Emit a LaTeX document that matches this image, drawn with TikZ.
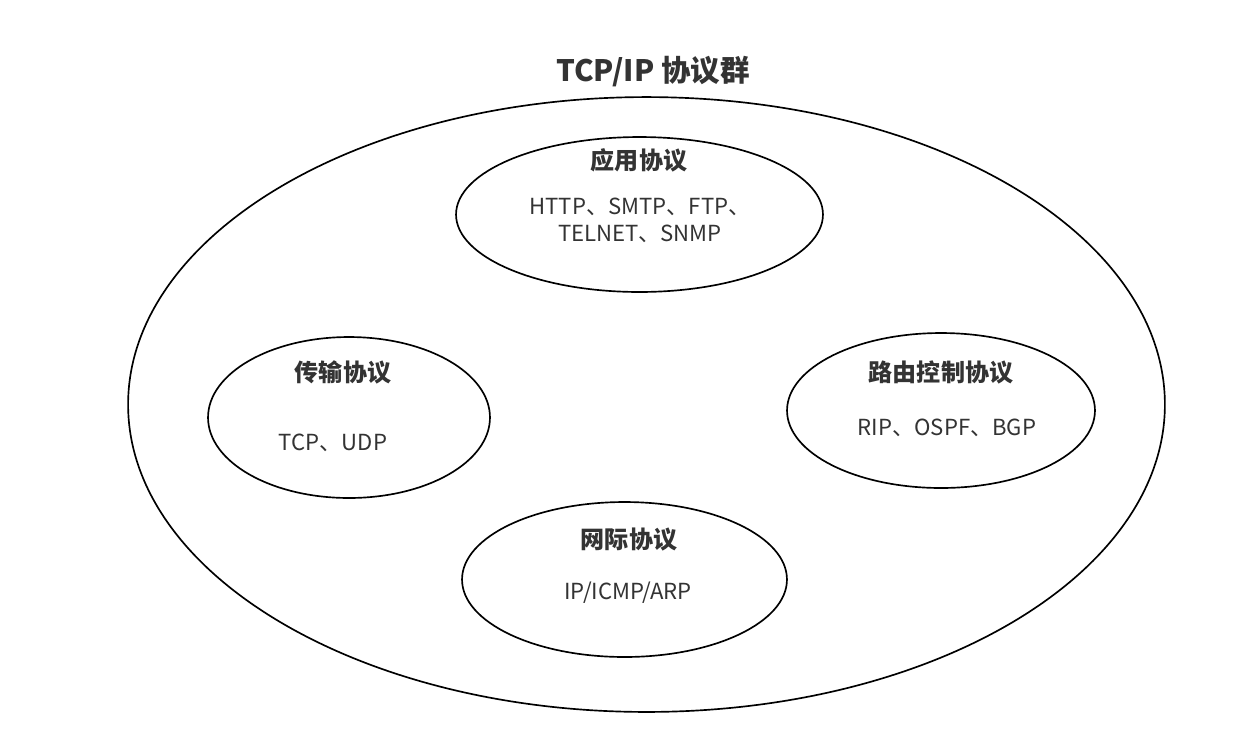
\documentclass[tikz,border=0pt]{standalone}
\usepackage{fontspec}
\setmainfont{Noto Sans CJK SC}
\usetikzlibrary{shapes.geometric}
\definecolor{txt}{HTML}{333333}
\tikzset{
  oval/.style={draw=black, line width=0.95pt, ellipse, inner sep=0pt},
  head/.style={text=txt, font=\fontsize{13.7pt}{16pt}\selectfont\bfseries, inner sep=0pt},
  body/.style={text=txt, font=\fontsize{12.6pt}{15.5pt}\selectfont, inner sep=0pt, align=center},
}
\begin{document}
\begin{tikzpicture}[x=0.02cm, y=-0.02cm]
\path[use as bounding box, fill=white] (0,0) rectangle (1258,752);
\node[text=txt, font=\fontsize{16.8pt}{19pt}\selectfont\bfseries, inner sep=0pt] (title) at (653,72) {TCP/IP 协议群};
\node[oval, minimum width=20.74cm, minimum height=12.3cm] (suite) at (646.5,404.5) {};
\node[oval, minimum width=7.34cm, minimum height=3.1cm] (app) at (639.5,214.5) {};
\node[head] (apph) at (639,160) {应用协议};
\node[body] (appb) at (640,220) {HTTP、SMTP、FTP、\\TELNET、SNMP};
\node[oval, minimum width=5.64cm, minimum height=3.22cm] (trans) at (349,417.5) {};
\node[head] (transh) at (343,372) {传输协议};
\node[body] (transb) at (333,443) {TCP、UDP};
\node[oval, minimum width=6.16cm, minimum height=3.1cm] (route) at (941,410.5) {};
\node[head] (routeh) at (941,372) {路由控制协议};
\node[body] (routeb) at (947,428) {RIP、OSPF、BGP};
\node[oval, minimum width=6.5cm, minimum height=3.1cm] (inet) at (624.5,579.5) {};
\node[head] (ineth) at (629,540) {网际协议};
\node[body] (inetb) at (628,593) {IP/ICMP/ARP};
\end{tikzpicture}
\end{document}
